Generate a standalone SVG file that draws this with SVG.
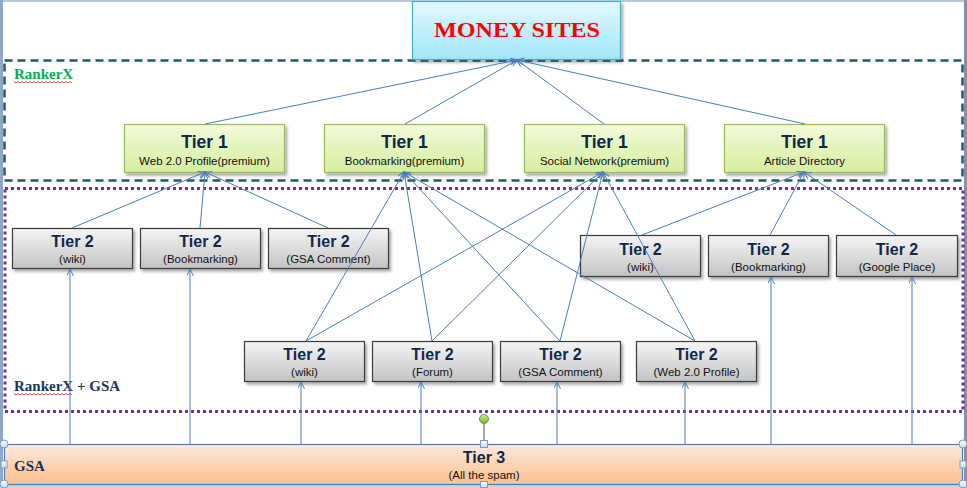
<svg xmlns="http://www.w3.org/2000/svg" width="967" height="488" viewBox="0 0 967 488">
<defs>
<linearGradient id="gMoney" x1="0" y1="0" x2="0" y2="1"><stop offset="0" stop-color="#e2f9ff"/><stop offset="1" stop-color="#a2e6f7"/></linearGradient>
<linearGradient id="gT1" x1="0" y1="0" x2="0" y2="1"><stop offset="0" stop-color="#f3fadc"/><stop offset="1" stop-color="#d5ee9d"/></linearGradient>
<linearGradient id="gT2" x1="0" y1="0" x2="0" y2="1"><stop offset="0" stop-color="#f5f5f5"/><stop offset="1" stop-color="#c3c3c3"/></linearGradient>
<linearGradient id="gT3" x1="0" y1="0" x2="0" y2="1"><stop offset="0" stop-color="#feeade"/><stop offset="1" stop-color="#fbbf8b"/></linearGradient>
<linearGradient id="gHandle" x1="0" y1="0" x2="0" y2="1"><stop offset="0" stop-color="#ffffff"/><stop offset="1" stop-color="#c6dcef"/></linearGradient>
<linearGradient id="gGreen" x1="0" y1="0" x2="0" y2="1"><stop offset="0" stop-color="#c8f08a"/><stop offset="1" stop-color="#6cbf2a"/></linearGradient>
<filter id="sh" x="-10%" y="-10%" width="130%" height="140%"><feDropShadow dx="2" dy="2.5" stdDeviation="1.5" flood-color="#000" flood-opacity="0.35"/></filter>
<marker id="ah" markerWidth="8" markerHeight="8" refX="7" refY="3.5" orient="auto" markerUnits="userSpaceOnUse"><path d="M0,0 L7,3.5 L0,7" fill="none" stroke="#4a7ebb" stroke-width="1"/></marker>
</defs>
<style>
.t1 { fill: url(#gT1); stroke: #9bbb59; stroke-width: 1.2; filter: url(#sh); }
.t2 { fill: url(#gT2); stroke: #3a3a3a; stroke-width: 1.2; filter: url(#sh); }
.h1 { font-family: "Liberation Sans", Arial, sans-serif; font-weight: bold; font-size: 17.5px; fill: #10284a; text-anchor: middle; }
.h2 { font-family: "Liberation Sans", Arial, sans-serif; font-weight: bold; font-size: 16px; fill: #10284a; text-anchor: middle; }
.sub { font-family: "Liberation Sans", Arial, sans-serif; font-size: 11.5px; fill: #111; text-anchor: middle; }
.lbl { font-family: "Liberation Serif", "Times New Roman", serif; font-weight: bold; font-size: 15px; }
.conn line { stroke: #4a7ebb; stroke-width: 1; fill: none; marker-end: url(#ah); }
.hd { fill: url(#gHandle); stroke: #7d9cc0; stroke-width: 1; }
</style>
<rect x="0" y="0" width="967" height="488" fill="#ffffff"/>
<rect x="0" y="0" width="967" height="2" fill="#b9c8dd"/>
<rect x="0" y="0" width="3" height="488" fill="#8ea6c8"/>
<rect x="964" y="0" width="3" height="488" fill="#7e93b4"/>
<rect x="0" y="485" width="967" height="3" fill="#d0d4da"/>

<g id="region-rankerx">
<rect x="4.5" y="60.5" width="958" height="120" fill="none" stroke="#215868" stroke-width="2.5" stroke-dasharray="8,5"/>
<text class="lbl" x="14" y="79" fill="#00b050">RankerX</text>
<path d="M14,81.5 l2,1.5 l2,-1.5 l2,1.5 l2,-1.5 l2,1.5 l2,-1.5 l2,1.5 l2,-1.5 l2,1.5 l2,-1.5 l2,1.5 l2,-1.5 l2,1.5 l2,-1.5 l2,1.5 l2,-1.5 l2,1.5 l2,-1.5 l2,1.5 l2,-1.5 l2,1.5 l2,-1.5 l2,1.5 l2,-1.5 l2,1.5 l2,-1.5 l2,1.5 l2,-1.5 l2,1.5" fill="none" stroke="#e02020" stroke-width="0.8"/>
</g>
<g id="region-rankerx-gsa">
<rect x="5" y="188.5" width="958" height="223" fill="none" stroke="#7030a0" stroke-width="3" stroke-dasharray="3,3"/>
<text class="lbl" x="14" y="391" fill="#17365d">RankerX + GSA</text>
<path d="M14,393.5 l2,1.5 l2,-1.5 l2,1.5 l2,-1.5 l2,1.5 l2,-1.5 l2,1.5 l2,-1.5 l2,1.5 l2,-1.5 l2,1.5 l2,-1.5 l2,1.5 l2,-1.5 l2,1.5 l2,-1.5 l2,1.5 l2,-1.5 l2,1.5 l2,-1.5 l2,1.5 l2,-1.5 l2,1.5 l2,-1.5 l2,1.5 l2,-1.5 l2,1.5 l2,-1.5 l2,1.5" fill="none" stroke="#e02020" stroke-width="0.8"/>
</g>

<g id="money-sites">
<rect x="412.5" y="1.5" width="208" height="58" fill="url(#gMoney)" stroke="#4bacc6" stroke-width="1.2" filter="url(#sh)"/>
<text x="517" y="37" font-family="Liberation Serif, 'Times New Roman', serif" font-weight="bold" font-size="22" fill="#ff0000" text-anchor="middle" textLength="166" lengthAdjust="spacingAndGlyphs">MONEY SITES</text>
</g>

<g id="tier1-web20">
<rect class="t1" x="124.5" y="124.5" width="160" height="48"/>
<text class="h1" x="204.5" y="148">Tier 1</text>
<text class="sub" x="204.5" y="165">Web 2.0 Profile(premium)</text>
</g>
<g id="tier1-bookmarking">
<rect class="t1" x="324.5" y="124.5" width="160" height="48"/>
<text class="h1" x="404.5" y="148">Tier 1</text>
<text class="sub" x="404.5" y="165">Bookmarking(premium)</text>
</g>
<g id="tier1-social">
<rect class="t1" x="524.5" y="124.5" width="160" height="48"/>
<text class="h1" x="604.5" y="148">Tier 1</text>
<text class="sub" x="604.5" y="165">Social Network(premium)</text>
</g>
<g id="tier1-article">
<rect class="t1" x="724.5" y="124.5" width="160" height="48"/>
<text class="h1" x="804.5" y="148">Tier 1</text>
<text class="sub" x="804.5" y="165">Article Directory</text>
</g>

<g id="t2a-wiki">
<rect class="t2" x="12.5" y="228.5" width="120" height="40"/>
<text class="h2" x="72.5" y="247">Tier 2</text>
<text class="sub" x="72.5" y="263">(wiki)</text>
</g>
<g id="t2a-bookmarking">
<rect class="t2" x="140.5" y="228.5" width="120" height="40"/>
<text class="h2" x="200.5" y="247">Tier 2</text>
<text class="sub" x="200.5" y="263">(Bookmarking)</text>
</g>
<g id="t2a-gsa">
<rect class="t2" x="268.5" y="228.5" width="120" height="40"/>
<text class="h2" x="328.5" y="247">Tier 2</text>
<text class="sub" x="328.5" y="263">(GSA Comment)</text>
</g>

<g id="t2b-wiki">
<rect class="t2" x="580.5" y="235.5" width="120" height="41"/>
<text class="h2" x="640.5" y="255">Tier 2</text>
<text class="sub" x="640.5" y="271">(wiki)</text>
</g>
<g id="t2b-bookmarking">
<rect class="t2" x="708.5" y="235.5" width="120" height="41"/>
<text class="h2" x="768.5" y="255">Tier 2</text>
<text class="sub" x="768.5" y="271">(Bookmarking)</text>
</g>
<g id="t2b-google">
<rect class="t2" x="836.5" y="235.5" width="121" height="41"/>
<text class="h2" x="897" y="255">Tier 2</text>
<text class="sub" x="897" y="271">(Google Place)</text>
</g>

<g id="t2c-wiki">
<rect class="t2" x="244.5" y="341.5" width="120" height="40"/>
<text class="h2" x="304.5" y="360">Tier 2</text>
<text class="sub" x="304.5" y="376">(wiki)</text>
</g>
<g id="t2c-forum">
<rect class="t2" x="372.5" y="341.5" width="120" height="40"/>
<text class="h2" x="432.5" y="360">Tier 2</text>
<text class="sub" x="432.5" y="376">(Forum)</text>
</g>
<g id="t2c-gsa">
<rect class="t2" x="500.5" y="341.5" width="120" height="40"/>
<text class="h2" x="560.5" y="360">Tier 2</text>
<text class="sub" x="560.5" y="376">(GSA Comment)</text>
</g>
<g id="t2c-web20">
<rect class="t2" x="636.5" y="341.5" width="120" height="40"/>
<text class="h2" x="696.5" y="360">Tier 2</text>
<text class="sub" x="696.5" y="376">(Web 2.0 Profile)</text>
</g>

<g id="tier3">
<rect x="4.5" y="444.5" width="958" height="40" fill="url(#gT3)" stroke="#4a7ebb" stroke-width="1.2"/>
<text class="lbl" x="14" y="471" fill="#17365d" font-size="16">GSA</text>
<text class="h2" x="484" y="463">Tier 3</text>
<text class="sub" x="484" y="479" font-size="11">(All the spam)</text>
</g>

<g id="connectors" class="conn">
<line x1="205" y1="124" x2="517" y2="60"/>
<line x1="405" y1="124" x2="517" y2="60"/>
<line x1="604" y1="124" x2="517" y2="60"/>
<line x1="805" y1="124" x2="517" y2="60"/>

<line x1="72" y1="228" x2="205" y2="172"/>
<line x1="200" y1="228" x2="205" y2="172"/>
<line x1="328" y1="228" x2="205" y2="172"/>

<line x1="306" y1="341" x2="404" y2="172"/>
<line x1="432" y1="341" x2="404" y2="172"/>
<line x1="560" y1="341" x2="404" y2="172"/>
<line x1="695" y1="341" x2="404" y2="172"/>
<line x1="306" y1="341" x2="603" y2="172"/>
<line x1="432" y1="341" x2="603" y2="172"/>
<line x1="560" y1="341" x2="603" y2="172"/>
<line x1="695" y1="341" x2="603" y2="172"/>

<line x1="642" y1="235" x2="804" y2="172"/>
<line x1="770" y1="235" x2="804" y2="172"/>
<line x1="896" y1="235" x2="804" y2="172"/>

<line x1="70" y1="444" x2="70" y2="269"/>
<line x1="190" y1="444" x2="190" y2="269"/>
<line x1="301" y1="444" x2="301" y2="382"/>
<line x1="421" y1="444" x2="421" y2="382"/>
<line x1="557" y1="444" x2="557" y2="382"/>
<line x1="685" y1="444" x2="685" y2="382"/>
<line x1="771" y1="444" x2="771" y2="277"/>
<line x1="912" y1="444" x2="912" y2="277"/>
</g>

<g id="selection-handles">
<line x1="484" y1="424" x2="484" y2="441" stroke="#8c8c8c" stroke-width="1.5"/>
<circle cx="484" cy="419" r="4.5" fill="url(#gGreen)" stroke="#7a8a6a" stroke-width="1"/>
<rect class="hd" x="480.5" y="440.5" width="7" height="7"/>
<rect class="hd" x="480.5" y="481.5" width="7" height="6"/>
<rect class="hd" x="1" y="461" width="6" height="7"/>
<rect class="hd" x="960" y="461" width="6" height="7"/>
<circle class="hd" cx="4" cy="444" r="4"/>
<circle class="hd" cx="4" cy="484" r="4"/>
<circle class="hd" cx="963" cy="444" r="4"/>
<circle class="hd" cx="963" cy="484" r="4"/>
</g>
</svg>
